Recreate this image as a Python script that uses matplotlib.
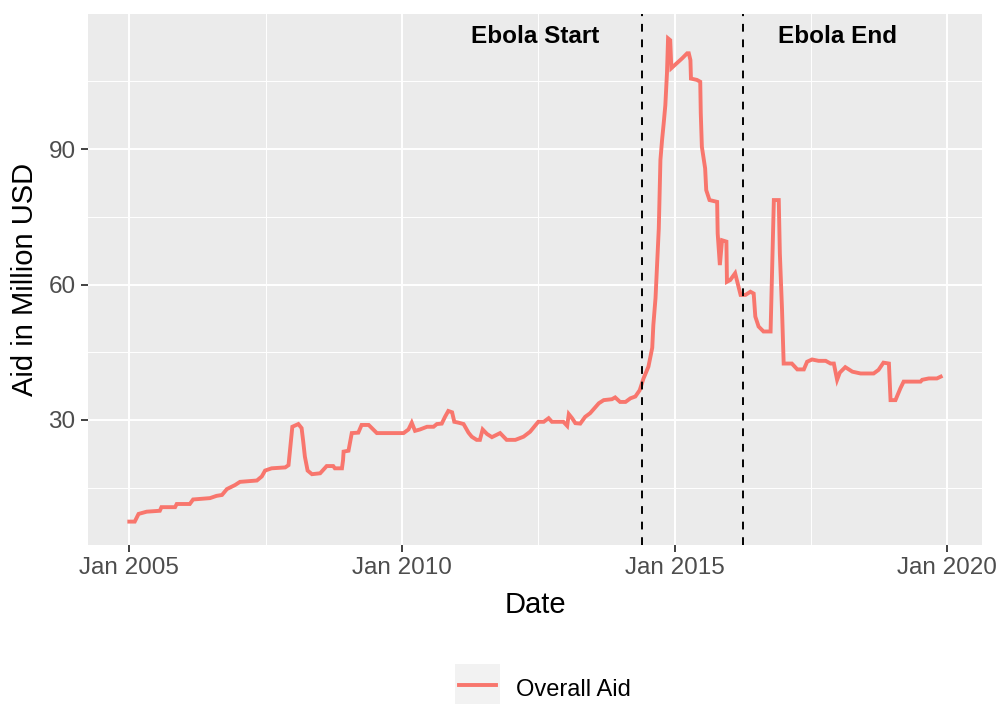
import matplotlib
matplotlib.use("Agg")
import matplotlib.pyplot as plt
from matplotlib.patches import Rectangle
from matplotlib.lines import Line2D
import numpy as np

# ---- data (decimal year, aid in million USD) ----
years = [
    2005.00, 2005.10, 2005.17, 2005.32, 2005.56, 2005.59, 2005.84, 2005.87, 2006.11, 2006.17,
    2006.48, 2006.60, 2006.70, 2006.79, 2006.94, 2007.03, 2007.34, 2007.43, 2007.49, 2007.61,
    2007.86, 2007.92, 2007.95, 2007.99, 2008.10, 2008.16, 2008.19, 2008.22, 2008.27, 2008.35,
    2008.50, 2008.62, 2008.74, 2008.77, 2008.90, 2008.92, 2008.93, 2009.02, 2009.05, 2009.08,
    2009.20, 2009.26, 2009.39, 2009.54, 2010.03, 2010.12, 2010.18, 2010.24, 2010.33, 2010.46,
    2010.58, 2010.64, 2010.73, 2010.79, 2010.85, 2010.92, 2010.96, 2011.04, 2011.13, 2011.22,
    2011.28, 2011.37, 2011.43, 2011.48, 2011.56, 2011.65, 2011.80, 2011.92, 2012.08, 2012.23,
    2012.35, 2012.50, 2012.60, 2012.69, 2012.75, 2012.96, 2013.03, 2013.06, 2013.12, 2013.18,
    2013.27, 2013.36, 2013.45, 2013.61, 2013.70, 2013.85, 2013.91, 2014.00, 2014.10, 2014.19,
    2014.28, 2014.36, 2014.43, 2014.52, 2014.59, 2014.61, 2014.65, 2014.71, 2014.74, 2014.77,
    2014.80, 2014.83, 2014.86, 2014.88, 2014.92, 2014.94, 2015.04, 2015.14, 2015.23, 2015.26,
    2015.29, 2015.30, 2015.41, 2015.47, 2015.48, 2015.50, 2015.56, 2015.58, 2015.64, 2015.78,
    2015.79, 2015.83, 2015.87, 2015.95, 2015.96, 2016.02, 2016.11, 2016.21, 2016.30, 2016.39,
    2016.45, 2016.48, 2016.54, 2016.63, 2016.76, 2016.79, 2016.82, 2016.91, 2016.93, 2016.97,
    2017.00, 2017.15, 2017.25, 2017.37, 2017.43, 2017.52, 2017.64, 2017.77, 2017.86, 2017.92,
    2017.98, 2018.03, 2018.13, 2018.26, 2018.41, 2018.65, 2018.74, 2018.83, 2018.93, 2018.96,
    2019.05, 2019.14, 2019.20, 2019.51, 2019.54, 2019.66, 2019.81, 2019.88,
]
aid = [
    7.5, 7.5, 9.2, 9.7, 9.9, 10.7, 10.7, 11.4, 11.4, 12.4,
    12.7, 13.2, 13.4, 14.7, 15.6, 16.3, 16.6, 17.5, 18.8, 19.3,
    19.5, 20.0, 23.7, 28.5, 29.1, 28.2, 25.2, 21.9, 18.8, 18.0,
    18.2, 19.8, 19.8, 19.3, 19.3, 21.1, 23.0, 23.2, 25.2, 27.1,
    27.2, 28.9, 28.9, 27.1, 27.1, 27.9, 29.4, 27.6, 27.9, 28.5,
    28.5, 29.1, 29.2, 30.7, 32.0, 31.7, 29.6, 29.4, 29.1, 27.2,
    26.3, 25.6, 25.6, 27.9, 26.9, 26.2, 27.1, 25.6, 25.6, 26.3,
    27.4, 29.6, 29.6, 30.4, 29.6, 29.6, 28.7, 31.3, 30.4, 29.3,
    29.2, 30.7, 31.5, 33.7, 34.4, 34.6, 35.0, 34.0, 34.0, 34.8,
    35.2, 36.6, 39.2, 41.8, 46.0, 51.0, 57.0, 72.4, 87.6, 92.0,
    95.7, 99.7, 106.8, 114.5, 114.1, 107.9, 109.0, 110.1, 111.2, 111.2,
    109.7, 105.6, 105.3, 104.9, 97.9, 90.5, 85.7, 80.9, 78.7, 78.3,
    71.3, 64.3, 69.8, 69.5, 60.6, 61.0, 62.5, 57.7, 57.7, 58.4,
    58.0, 52.9, 50.7, 49.6, 49.6, 63.9, 78.7, 78.7, 66.9, 54.4,
    42.5, 42.5, 41.2, 41.2, 42.9, 43.4, 43.1, 43.1, 42.5, 42.5,
    38.9, 40.5, 41.7, 40.7, 40.3, 40.3, 41.1, 42.7, 42.5, 34.4,
    34.4, 37.0, 38.5, 38.5, 38.9, 39.2, 39.2, 39.6,
]
series_label = "Overall Aid"

x_tick_years = [2005, 2010, 2015, 2020]
x_tick_labels = ["Jan 2005", "Jan 2010", "Jan 2015", "Jan 2020"]
x_minor_years = [2007.5, 2012.5, 2017.5]
y_ticks = [30, 60, 90]
y_minor = [15, 45, 75, 105]

ebola_start = 2014.41
ebola_end = 2016.25
annot_labels = ["Ebola Start", "Ebola End"]
annot_x = [2012.45, 2017.99]
annot_y = 115.0

# ---- style ----
plt.rcParams['font.family'] = ['Liberation Sans', 'DejaVu Sans']
line_color = "#F8766D"

fig = plt.figure(figsize=(9.99, 7.04), dpi=100)
W, H = 999, 704
L, R, T, B = 88, 982, 14, 545
ax = fig.add_axes([L / W, 1 - B / H, (R - L) / W, (B - T) / H])
ax.set_facecolor("#EBEBEB")
for s in ax.spines.values():
    s.set_visible(False)

ax.set_xlim(2004.243, 2020.637)
ax.set_ylim(2.32, 119.9)

# grid
for v in y_minor:
    ax.axhline(v, color="white", lw=0.7, zorder=0.5)
for v in x_minor_years:
    ax.axvline(v, color="white", lw=0.7, zorder=0.5)
for v in y_ticks:
    ax.axhline(v, color="white", lw=1.4, zorder=0.6)
for v in x_tick_years:
    ax.axvline(v, color="white", lw=1.4, zorder=0.6)

ax.plot(years, aid, color=line_color, lw=2.8, solid_joinstyle="miter", zorder=2,
        label=series_label)

for xv in (ebola_start, ebola_end):
    ax.axvline(xv, color="black", lw=1.4, linestyle=(0, (4, 4)), zorder=3)

for lab, xv in zip(annot_labels, annot_x):
    ax.text(xv, annot_y, lab, ha="center", va="center", fontsize=17.5,
            fontweight="bold", color="black", zorder=4)

ax.set_xticks(x_tick_years)
ax.set_xticklabels(x_tick_labels)
ax.set_yticks(y_ticks)
ax.set_yticklabels([str(v) for v in y_ticks])
ax.tick_params(axis="both", which="major", length=5, width=1.3, color="#333333",
               labelcolor="#4D4D4D", labelsize=17.5, pad=4)

ax.set_xlabel("Date", fontsize=21, color="black")
ax.set_ylabel("Aid in Million USD", fontsize=21, color="black")
ax.xaxis.set_label_coords(0.5, ((H - 605) - (H - B)) / (B - T))
ax.xaxis.label.set_verticalalignment("center")
ax.yaxis.set_label_coords((25 - L) / (R - L), 0.5)
ax.yaxis.label.set_verticalalignment("center")

# legend (drawn in figure pixels)
def fx(px):
    return px / W

def fy(py):
    return 1 - py / H

fig.patches.append(Rectangle((fx(455), fy(704)), fx(500) - fx(455), fy(664) - fy(704),
                             transform=fig.transFigure, facecolor="#F2F2F2",
                             edgecolor="none", zorder=1))
fig.lines.append(Line2D([fx(459), fx(496)], [fy(685), fy(685)], transform=fig.transFigure,
                        color=line_color, lw=2.8, zorder=2))
fig.text(fx(516), fy(696), series_label, ha="left", va="baseline", fontsize=17,
         color="black")

fig.savefig("out.png", dpi=100, facecolor="white")
